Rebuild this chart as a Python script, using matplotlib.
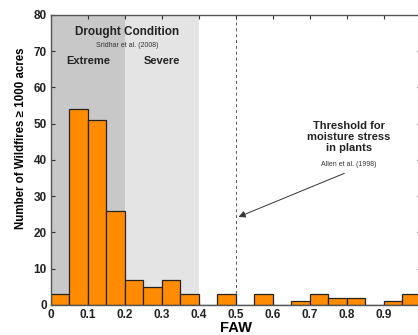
import matplotlib
matplotlib.use("Agg")
import matplotlib.pyplot as plt
import numpy as np

bin_edges = [0.0, 0.05, 0.10, 0.15, 0.20, 0.25, 0.30, 0.35, 0.40, 0.45, 0.50,
             0.55, 0.60, 0.65, 0.70, 0.75, 0.80, 0.85, 0.90, 0.95, 1.00]
counts = [3, 54, 51, 26, 7, 5, 7, 3, 0, 3, 0, 3, 0, 1, 3, 2, 2, 0, 1, 3]
xticks = [0, 0.1, 0.2, 0.3, 0.4, 0.5, 0.6, 0.7, 0.8, 0.9]
yticks = [0, 10, 20, 30, 40, 50, 60, 70, 80]

plt.rcParams['font.family'] = ['Liberation Sans', 'DejaVu Sans']

fig = plt.figure(figsize=(4.18, 3.35), dpi=100)
ax = fig.add_axes([0.122, 0.0896, 0.885, 0.866])

ax.axvspan(0.0, 0.2, color='#c8c8c8', zorder=0, lw=0)
ax.axvspan(0.2, 0.4, color='#e4e4e4', zorder=0, lw=0)

lefts = np.array(bin_edges[:-1])
widths = np.diff(bin_edges)
ax.bar(lefts, counts, width=widths, align='edge', color='#ff8c00',
       edgecolor='#222222', linewidth=0.9, zorder=2)

ax.axvline(0.5, color='#555555', linestyle=(0, (3, 3)), linewidth=0.7, zorder=1)

ax.set_xlim(0, 1.0)
ax.set_ylim(0, 80)
ax.set_xticks(xticks)
ax.set_xticklabels([f"{t:g}" for t in xticks])
ax.set_yticks(yticks)
ax.tick_params(axis='both', which='both', direction='in', top=True, right=True,
               length=3, width=0.8, color='#333333', labelsize=8.5, pad=3)
for lab in ax.get_xticklabels() + ax.get_yticklabels():
    lab.set_fontweight('bold')
    lab.set_color('#222222')
for s in ax.spines.values():
    s.set_color('#555555')
    s.set_linewidth(1.0)

ax.set_xlabel('FAW', fontsize=10.5, fontweight='bold', labelpad=0)
ax.set_ylabel('Number of Wildfires \u2265 1000 acres', fontsize=8.3,
              fontweight='bold')
ax.yaxis.set_label_coords(-0.066, 0.576)

ax.text(0.205, 75.3, 'Drought Condition', ha='center', va='center',
        fontsize=8.5, fontweight='bold', color='#222222')
ax.text(0.205, 71.6, 'Sridhar et al. (2008)', ha='center', va='center',
        fontsize=5, color='#333333')
ax.text(0.1, 67.2, 'Extreme', ha='center', va='center',
        fontsize=8, fontweight='bold', color='#222222')
ax.text(0.3, 67.2, 'Severe', ha='center', va='center',
        fontsize=8, fontweight='bold', color='#222222')

ax.text(0.805, 46.3, 'Threshold for\nmoisture stress\nin plants', ha='center',
        va='center', fontsize=8, fontweight='bold', color='#222222',
        linespacing=1.15)
ax.text(0.805, 38.7, 'Allen et al. (1998)', ha='center', va='center',
        fontsize=5, color='#333333')
ax.annotate('', xy=(0.5, 24), xytext=(0.8, 36.6),
            arrowprops=dict(arrowstyle='-|>', color='#333333', lw=0.7,
                            mutation_scale=10))

fig.savefig('out.png', dpi=100)
